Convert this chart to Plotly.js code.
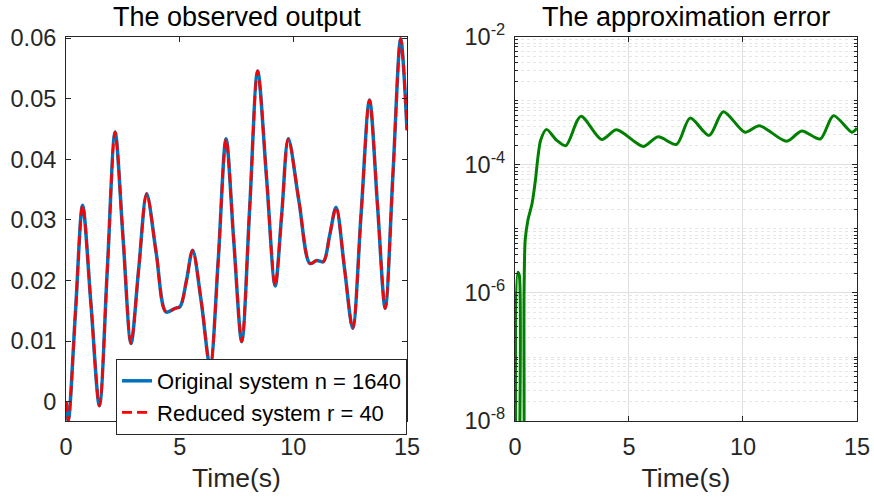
<!DOCTYPE html>
<html>
<head>
<meta charset="utf-8">
<script src="https://cdn.plot.ly/plotly-3.0.1.min.js"></script>
<style>html,body{margin:0;padding:0;background:#fff;}#chart{width:874px;height:497px;}</style>
</head>
<body>
<div id="chart"></div>
<script>
// Left panel: observed output (original and reduced nearly identical)
const timeOut = [0, 0.1, 0.42, 0.73, 1.1, 1.47, 1.82, 2.16, 2.51, 2.86, 3.2, 3.55, 3.97, 4.40, 4.8, 5.02, 5.3, 5.57, 5.95, 6.34, 6.69, 7.04, 7.38, 7.73, 8.08, 8.43, 8.82, 9.20, 9.49, 9.78, 10.25, 10.73, 11.03, 11.32, 11.6, 11.88, 12.25, 12.61, 12.98, 13.35, 13.7, 14.04, 14.38, 14.72, 15.0];
const originalOut = [0.0000, -0.0032, 0.0150, 0.0324, 0.0160, -0.0007, 0.0220, 0.0445, 0.0270, 0.0096, 0.0220, 0.0343, 0.0245, 0.0148, 0.0154, 0.0157, 0.0200, 0.0250, 0.0165, 0.0058, 0.0230, 0.0434, 0.0265, 0.0099, 0.0320, 0.0546, 0.0370, 0.0191, 0.0310, 0.0434, 0.0330, 0.0228, 0.0233, 0.0231, 0.0275, 0.0321, 0.0220, 0.0121, 0.0310, 0.0498, 0.0325, 0.0154, 0.0375, 0.0599, 0.0448];
const reducedOut = [0.0000, -0.0032, 0.0150, 0.0324, 0.0160, -0.0007, 0.0220, 0.0445, 0.0270, 0.0096, 0.0220, 0.0343, 0.0245, 0.0148, 0.0154, 0.0157, 0.0200, 0.0250, 0.0165, 0.0058, 0.0230, 0.0434, 0.0265, 0.0099, 0.0320, 0.0546, 0.0370, 0.0191, 0.0310, 0.0434, 0.0330, 0.0228, 0.0233, 0.0231, 0.0275, 0.0321, 0.0220, 0.0121, 0.0310, 0.0498, 0.0325, 0.0154, 0.0375, 0.0599, 0.0448];

// Right panel: approximation error (log scale)
const timeErr = [0, 0.015, 0.04, 0.12, 0.19, 0.26, 0.30, 0.40, 0.45, 0.57, 0.75, 0.9, 1.01, 1.13, 1.38, 1.82, 2.23, 2.89, 3.80, 4.45, 5.26, 5.65, 6.28, 7.09, 7.68, 8.52, 9.14, 10.09, 10.72, 11.92, 12.58, 13.39, 13.97, 14.78, 15.0];
const errorVals = [1e-10, 2.3e-7, 1e-10, 2.1e-6, 1.9e-6, 1e-10, 1e-10, 1.1e-6, 6.8e-6, 1.38e-5, 2.5e-5, 5.9e-5, 1.35e-4, 2.45e-4, 3.6e-4, 2.45e-4, 2.0e-4, 5.75e-4, 2.5e-4, 3.55e-4, 2.3e-4, 1.95e-4, 2.75e-4, 2.1e-4, 5.4e-4, 2.9e-4, 6.8e-4, 3.25e-4, 4.1e-4, 2.35e-4, 3.4e-4, 2.55e-4, 5.9e-4, 3.25e-4, 3.8e-4];

const xTicks = [0, 5, 10, 15];
const yTicksLeft = [0, 0.01, 0.02, 0.03, 0.04, 0.05, 0.06];
const yTickTextLeft = ['0', '0.01', '0.02', '0.03', '0.04', '0.05', '0.06'];
const yTicksRight = [1e-8, 1e-6, 1e-4, 1e-2];
const yTickTextRight = ['10<sup>-8</sup>', '10<sup>-6</sup>', '10<sup>-4</sup>', '10<sup>-2</sup>'];

const minorVals = [];
for (let e = -8; e < -2; e++) for (let k = 2; k <= 9; k++) minorVals.push(k * Math.pow(10, e));
minorVals.push(1e-7, 1e-5, 1e-3);

const FONT = 'Liberation Sans, Arial, sans-serif';
const AX = '#262626';

const traces = [
  {x: timeOut, y: originalOut, type: 'scatter', mode: 'lines', name: 'Original system n = 1640',
   line: {color: '#0072BD', width: 3.5, shape: 'spline', smoothing: 0.9}, xaxis: 'x', yaxis: 'y'},
  {x: timeOut, y: reducedOut, type: 'scatter', mode: 'lines', name: 'Reduced system r = 40',
   line: {color: '#FF0000', width: 2.6, dash: '10px,5px', shape: 'spline', smoothing: 0.9}, xaxis: 'x', yaxis: 'y'},
  {x: timeErr, y: errorVals, type: 'scatter', mode: 'lines', name: 'error', showlegend: false,
   line: {color: '#008000', width: 3, shape: 'spline', smoothing: 0.8}, xaxis: 'x2', yaxis: 'y2'}
];

const baseAxis = {
  showline: true, linecolor: AX, linewidth: 1, mirror: 'ticks', ticks: 'inside', ticklen: 5,
  tickcolor: AX, zeroline: false, tickfont: {family: FONT, size: 23.5, color: AX}
};

const layout = {
  width: 874, height: 497,
  margin: {l: 0, r: 0, t: 0, b: 0},
  paper_bgcolor: '#fff', plot_bgcolor: '#fff',
  font: {family: FONT, color: AX},
  showlegend: true,
  legend: {x: 0.4657, xanchor: 'right', y: 1 - 435/497, yanchor: 'bottom', bgcolor: '#fff',
           bordercolor: AX, borderwidth: 1, font: {family: FONT, size: 22, color: '#000'},
           itemwidth: 30, tracegroupgap: 0},
  xaxis: Object.assign({}, baseAxis, {domain: [0.0755, 0.4657], range: [0, 15], tickvals: xTicks,
    showgrid: false, anchor: 'y', ticklabelstandoff: 5,
    title: {text: 'Time(s)', font: {family: FONT, size: 26.5, color: AX}, standoff: 9}}),
  yaxis: Object.assign({}, baseAxis, {domain: [0.1529, 0.9256], range: [-0.0032, 0.0602],
    tickvals: yTicksLeft, ticktext: yTickTextLeft, showgrid: false, anchor: 'x', ticklabelstandoff: 4}),
  xaxis2: Object.assign({}, baseAxis, {domain: [0.5892, 0.9805], range: [0, 15], tickvals: xTicks,
    showgrid: true, gridcolor: '#dfdfdf', gridwidth: 1, anchor: 'y2', ticklabelstandoff: 5,
    title: {text: 'Time(s)', font: {family: FONT, size: 26.5, color: AX}, standoff: 9}}),
  yaxis2: Object.assign({}, baseAxis, {domain: [0.1529, 0.9256], type: 'log', range: [-8, -2],
    tickvals: yTicksRight, ticktext: yTickTextRight, showgrid: true, gridcolor: '#dfdfdf', gridwidth: 1, anchor: 'x2',
    ticklabelstandoff: 4,
    minor: {tickmode: 'array', tickvals: minorVals, ticks: 'inside', ticklen: 3, tickcolor: AX,
            showgrid: true, gridcolor: '#e6e6e6', griddash: 'dot', gridwidth: 1}}),
  annotations: [
    {text: 'The observed output', x: 0.2706, y: 1 - 17/497, xref: 'paper', yref: 'paper',
     xanchor: 'center', yanchor: 'middle', showarrow: false, font: {family: FONT, size: 27, color: '#000'}},
    {text: 'The approximation error', x: 0.7849, y: 1 - 17/497, xref: 'paper', yref: 'paper',
     xanchor: 'center', yanchor: 'middle', showarrow: false, font: {family: FONT, size: 27, color: '#000'}}
  ]
};

Plotly.newPlot('chart', traces, layout, {staticPlot: true, displayModeBar: false});
</script>
</body>
</html>
